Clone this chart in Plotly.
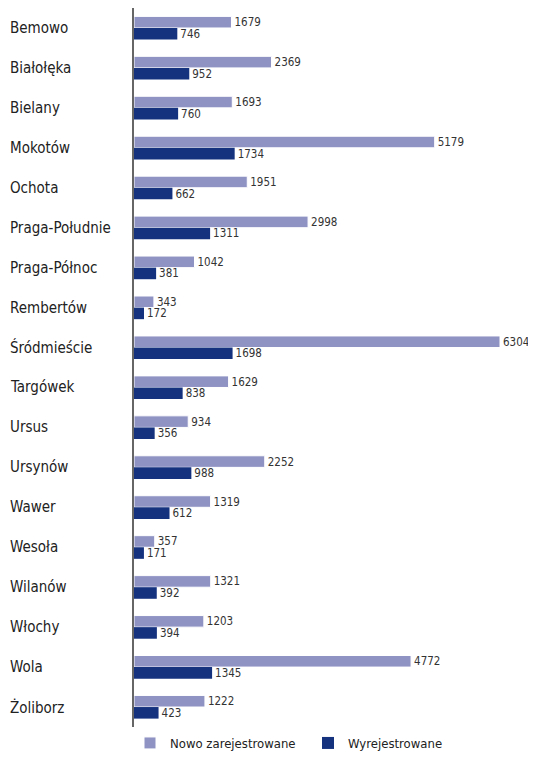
import plotly.graph_objects as go

districts = ["Bemowo", "Białołęka", "Bielany", "Mokotów", "Ochota", "Praga-Południe",
             "Praga-Północ", "Rembertów", "Śródmieście", "Targówek", "Ursus", "Ursynów",
             "Wawer", "Wesoła", "Wilanów", "Włochy", "Wola", "Żoliborz"]
nowo = [1679, 2369, 1693, 5179, 1951, 2998, 1042, 343, 6304, 1629, 934, 2252,
        1319, 357, 1321, 1203, 4772, 1222]
wyrej = [746, 952, 760, 1734, 662, 1311, 381, 172, 1698, 838, 356, 988,
         612, 171, 392, 394, 1345, 423]

FONT = "DejaVu Sans Condensed, Liberation Sans Narrow, sans-serif"
LIGHT = "#8f93c4"
DARK = "#15327f"

# strona ma 8px marginesu body, więc wykres jest o 8px mniejszy
W, H = 528, 751
L, R, B = 126, 2, 32
PW = W - L - R
PH = H - B

fig = go.Figure()
fig.add_trace(go.Bar(
    y=districts, x=nowo, orientation="h", name="Nowo zarejestrowane",
    marker=dict(color=LIGHT, line=dict(color="white", width=1)),
    text=[str(v) for v in nowo], textposition="outside", constraintext="none",
    textfont=dict(size=11.5, color="#333", family=FONT), cliponaxis=False,
))
fig.add_trace(go.Bar(
    y=districts, x=wyrej, orientation="h", name="Wyrejestrowane",
    marker=dict(color=DARK, line=dict(color="white", width=0)),
    text=[str(v) for v in wyrej], textposition="outside", constraintext="none",
    textfont=dict(size=11.5, color="#333", family=FONT), cliponaxis=False,
))

# nazwy dzielnic wyrównane do lewej
for d in districts:
    fig.add_annotation(x=-L / PW, xref="paper", y=d, yref="y", text=d,
                       showarrow=False, xanchor="left",
                       font=dict(size=15, color="#222", family=FONT))

fig.update_layout(
    width=W, height=H,
    barmode="group", bargap=0.42, bargroupgap=0,
    paper_bgcolor="white", plot_bgcolor="white",
    margin=dict(l=L, r=R, t=0, b=B),
    font=dict(family=FONT, color="#222"),
    legend=dict(orientation="h", x=-0.01, xanchor="left", y=-(B - 1) / PH, yanchor="bottom",
                font=dict(size=13, family=FONT), itemwidth=30,
                entrywidth=133, entrywidthmode="pixels"),
    xaxis=dict(range=[0, 6304 * PW / 366], visible=False),
    yaxis=dict(autorange="reversed", showticklabels=False, showgrid=False,
               showline=True, linecolor="#666", linewidth=2, ticks=""),
)

fig.write_html("out.html")
